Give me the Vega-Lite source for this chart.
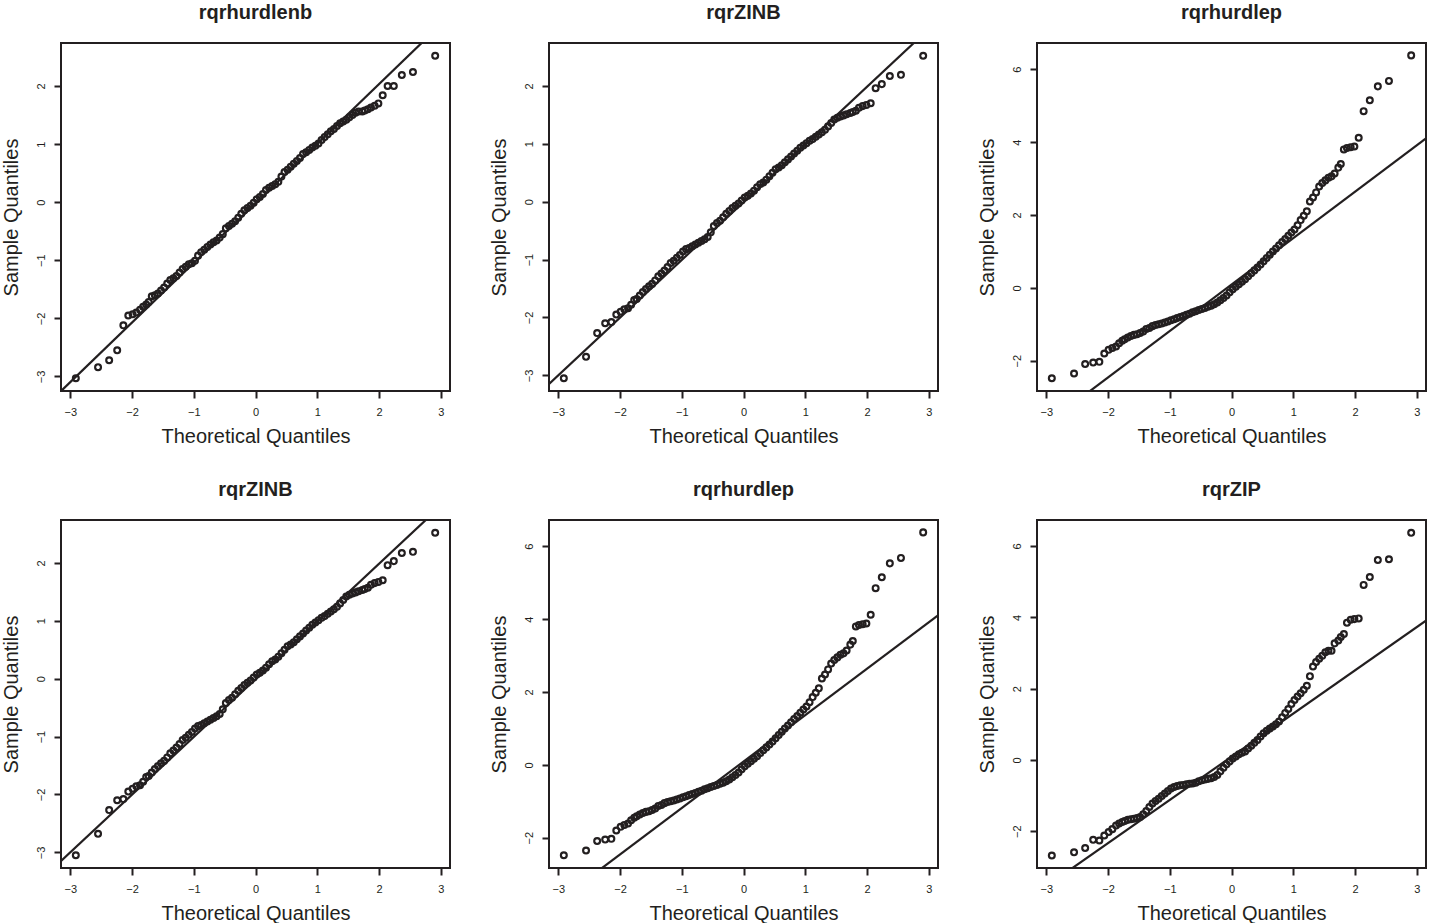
{
"$schema": "https://vega.github.io/schema/vega-lite/v6.json",
"background": "white",
"padding": {"left": 0, "top": 2, "right": 5, "bottom": 0},
"datasets": {
"qq": [
{"x":-2.91,"a":-3.03,"b":-3.05,"c":-2.48,"d":-2.68},
{"x":-2.55,"a":-2.84,"b":-2.68,"c":-2.35,"d":-2.59},
{"x":-2.37,"a":-2.72,"b":-2.27,"c":-2.09,"d":-2.47},
{"x":-2.24,"a":-2.55,"b":-2.10,"c":-2.05,"d":-2.24},
{"x":-2.14,"a":-2.12,"b":-2.08,"c":-2.03,"d":-2.26},
{"x":-2.06,"a":-1.95,"b":-1.95,"c":-1.80,"d":-2.12},
{"x":-1.99,"a":-1.93,"b":-1.90,"c":-1.70,"d":-2.02},
{"x":-1.93,"a":-1.90,"b":-1.86,"c":-1.65,"d":-1.94},
{"x":-1.87,"a":-1.85,"b":-1.84,"c":-1.61,"d":-1.84},
{"x":-1.82,"a":-1.80,"b":-1.78,"c":-1.52,"d":-1.78},
{"x":-1.77,"a":-1.76,"b":-1.70,"c":-1.45,"d":-1.74},
{"x":-1.73,"a":-1.72,"b":-1.68,"c":-1.41,"d":-1.71},
{"x":-1.68,"a":-1.62,"b":-1.62,"c":-1.36,"d":-1.68},
{"x":-1.63,"a":-1.60,"b":-1.56,"c":-1.32,"d":-1.66},
{"x":-1.58,"a":-1.57,"b":-1.51,"c":-1.29,"d":-1.65},
{"x":-1.53,"a":-1.52,"b":-1.46,"c":-1.27,"d":-1.63},
{"x":-1.48,"a":-1.47,"b":-1.42,"c":-1.24,"d":-1.60},
{"x":-1.43,"a":-1.40,"b":-1.36,"c":-1.20,"d":-1.52},
{"x":-1.38,"a":-1.34,"b":-1.29,"c":-1.13,"d":-1.43},
{"x":-1.33,"a":-1.31,"b":-1.24,"c":-1.10,"d":-1.32},
{"x":-1.28,"a":-1.27,"b":-1.19,"c":-1.05,"d":-1.22},
{"x":-1.23,"a":-1.21,"b":-1.13,"c":-1.02,"d":-1.15},
{"x":-1.18,"a":-1.15,"b":-1.06,"c":-1.00,"d":-1.09},
{"x":-1.13,"a":-1.11,"b":-1.02,"c":-0.98,"d":-1.01},
{"x":-1.08,"a":-1.07,"b":-0.97,"c":-0.95,"d":-0.94},
{"x":-1.03,"a":-1.05,"b":-0.92,"c":-0.92,"d":-0.87},
{"x":-0.98,"a":-1.01,"b":-0.86,"c":-0.89,"d":-0.80},
{"x":-0.93,"a":-0.92,"b":-0.82,"c":-0.86,"d":-0.76},
{"x":-0.88,"a":-0.86,"b":-0.80,"c":-0.83,"d":-0.73},
{"x":-0.83,"a":-0.82,"b":-0.77,"c":-0.80,"d":-0.71},
{"x":-0.78,"a":-0.77,"b":-0.74,"c":-0.77,"d":-0.70},
{"x":-0.73,"a":-0.73,"b":-0.71,"c":-0.74,"d":-0.68},
{"x":-0.68,"a":-0.69,"b":-0.68,"c":-0.71,"d":-0.67},
{"x":-0.63,"a":-0.66,"b":-0.65,"c":-0.67,"d":-0.66},
{"x":-0.58,"a":-0.61,"b":-0.61,"c":-0.64,"d":-0.64},
{"x":-0.53,"a":-0.55,"b":-0.53,"c":-0.61,"d":-0.60},
{"x":-0.48,"a":-0.45,"b":-0.42,"c":-0.58,"d":-0.57},
{"x":-0.43,"a":-0.41,"b":-0.37,"c":-0.55,"d":-0.55},
{"x":-0.38,"a":-0.37,"b":-0.33,"c":-0.52,"d":-0.53},
{"x":-0.33,"a":-0.33,"b":-0.27,"c":-0.49,"d":-0.51},
{"x":-0.28,"a":-0.27,"b":-0.21,"c":-0.45,"d":-0.48},
{"x":-0.23,"a":-0.20,"b":-0.16,"c":-0.40,"d":-0.42},
{"x":-0.18,"a":-0.14,"b":-0.11,"c":-0.34,"d":-0.32},
{"x":-0.13,"a":-0.10,"b":-0.07,"c":-0.28,"d":-0.22},
{"x":-0.08,"a":-0.06,"b":-0.03,"c":-0.21,"d":-0.12},
{"x":-0.03,"a":-0.01,"b":0.02,"c":-0.12,"d":-0.04},
{"x":0.02,"a":0.05,"b":0.07,"c":-0.04,"d":0.04},
{"x":0.07,"a":0.09,"b":0.10,"c":0.03,"d":0.10},
{"x":0.12,"a":0.14,"b":0.14,"c":0.10,"d":0.16},
{"x":0.17,"a":0.21,"b":0.19,"c":0.17,"d":0.20},
{"x":0.22,"a":0.25,"b":0.25,"c":0.24,"d":0.24},
{"x":0.27,"a":0.28,"b":0.30,"c":0.32,"d":0.32},
{"x":0.32,"a":0.31,"b":0.33,"c":0.40,"d":0.40},
{"x":0.37,"a":0.35,"b":0.38,"c":0.48,"d":0.48},
{"x":0.42,"a":0.44,"b":0.44,"c":0.56,"d":0.56},
{"x":0.47,"a":0.52,"b":0.50,"c":0.64,"d":0.66},
{"x":0.52,"a":0.56,"b":0.56,"c":0.73,"d":0.75},
{"x":0.57,"a":0.61,"b":0.59,"c":0.82,"d":0.82},
{"x":0.62,"a":0.66,"b":0.63,"c":0.91,"d":0.88},
{"x":0.67,"a":0.71,"b":0.68,"c":1.00,"d":0.94},
{"x":0.72,"a":0.76,"b":0.73,"c":1.08,"d":1.00},
{"x":0.77,"a":0.83,"b":0.78,"c":1.17,"d":1.08},
{"x":0.82,"a":0.86,"b":0.83,"c":1.26,"d":1.20},
{"x":0.87,"a":0.90,"b":0.88,"c":1.34,"d":1.32},
{"x":0.92,"a":0.94,"b":0.93,"c":1.43,"d":1.43},
{"x":0.97,"a":0.97,"b":0.97,"c":1.52,"d":1.57},
{"x":1.02,"a":1.01,"b":1.01,"c":1.60,"d":1.68},
{"x":1.07,"a":1.07,"b":1.05,"c":1.72,"d":1.78},
{"x":1.12,"a":1.12,"b":1.08,"c":1.86,"d":1.87},
{"x":1.17,"a":1.17,"b":1.12,"c":1.98,"d":1.97},
{"x":1.22,"a":1.22,"b":1.16,"c":2.10,"d":2.08},
{"x":1.27,"a":1.26,"b":1.20,"c":2.37,"d":2.35},
{"x":1.32,"a":1.31,"b":1.24,"c":2.48,"d":2.62},
{"x":1.37,"a":1.36,"b":1.30,"c":2.62,"d":2.75},
{"x":1.42,"a":1.39,"b":1.36,"c":2.78,"d":2.84},
{"x":1.47,"a":1.42,"b":1.42,"c":2.88,"d":2.92},
{"x":1.52,"a":1.46,"b":1.45,"c":2.95,"d":3.02},
{"x":1.57,"a":1.50,"b":1.47,"c":3.02,"d":3.06},
{"x":1.62,"a":1.54,"b":1.49,"c":3.06,"d":3.06},
{"x":1.67,"a":1.56,"b":1.51,"c":3.14,"d":3.27},
{"x":1.73,"a":1.56,"b":1.53,"c":3.30,"d":3.35},
{"x":1.77,"a":1.58,"b":1.55,"c":3.40,"d":3.45},
{"x":1.82,"a":1.60,"b":1.57,"c":3.80,"d":3.53},
{"x":1.87,"a":1.63,"b":1.62,"c":3.84,"d":3.85},
{"x":1.93,"a":1.66,"b":1.65,"c":3.86,"d":3.93},
{"x":1.99,"a":1.70,"b":1.67,"c":3.88,"d":3.95},
{"x":2.06,"a":1.84,"b":1.70,"c":4.12,"d":3.97},
{"x":2.14,"a":2.00,"b":1.96,"c":4.85,"d":4.91},
{"x":2.24,"a":2.00,"b":2.03,"c":5.15,"d":5.13},
{"x":2.37,"a":2.19,"b":2.17,"c":5.53,"d":5.61},
{"x":2.55,"a":2.24,"b":2.19,"c":5.68,"d":5.63},
{"x":2.91,"a":2.52,"b":2.52,"c":6.38,"d":6.37}
],
"ln": [
{"x":-3.5,"a":-3.611,"b":-3.50,"c":-4.37,"d":-4.15},
{"x":3.5,"a":3.571,"b":3.48,"c":4.55,"d":4.33}
]
},
"columns": 3,
"spacing": {"row": 129, "column": 99},
"bounds": "flush",
"concat": [
{"title": "rqrhurdlenb", "width": 389, "height": 348,
 "encoding": {"x": {"field": "x", "type": "quantitative", "title": "Theoretical Quantiles", "scale": {"domain": [-3.15, 3.15], "nice": false, "zero": false}, "axis": {"values": [-3,-2,-1,0,1,2,3]}}},
 "layer": [
  {"data": {"name": "qq"}, "mark": {"type": "point", "shape": "circle", "filled": false, "size": 34, "strokeWidth": 2.2, "color": "#231f20", "opacity": 1},
   "encoding": {"y": {"field": "a", "type": "quantitative", "title": "Sample Quantiles", "scale": {"domain": [-3.25, 2.74], "nice": false, "zero": false}, "axis": {"values": [-3,-2,-1,0,1,2]}}}},
  {"data": {"name": "ln"}, "mark": {"type": "line", "clip": true, "color": "#231f20", "strokeWidth": 2.2},
   "encoding": {"y": {"field": "a", "type": "quantitative", "title": "Sample Quantiles"}}}
 ]},
{"title": "rqrZINB", "width": 389, "height": 348,
 "encoding": {"x": {"field": "x", "type": "quantitative", "title": "Theoretical Quantiles", "scale": {"domain": [-3.15, 3.15], "nice": false, "zero": false}, "axis": {"values": [-3,-2,-1,0,1,2,3]}}},
 "layer": [
  {"data": {"name": "qq"}, "mark": {"type": "point", "shape": "circle", "filled": false, "size": 34, "strokeWidth": 2.2, "color": "#231f20", "opacity": 1},
   "encoding": {"y": {"field": "b", "type": "quantitative", "title": "Sample Quantiles", "scale": {"domain": [-3.27, 2.74], "nice": false, "zero": false}, "axis": {"values": [-3,-2,-1,0,1,2]}}}},
  {"data": {"name": "ln"}, "mark": {"type": "line", "clip": true, "color": "#231f20", "strokeWidth": 2.2},
   "encoding": {"y": {"field": "b", "type": "quantitative", "title": "Sample Quantiles"}}}
 ]},
{"title": "rqrhurdlep", "width": 389, "height": 348,
 "encoding": {"x": {"field": "x", "type": "quantitative", "title": "Theoretical Quantiles", "scale": {"domain": [-3.15, 3.15], "nice": false, "zero": false}, "axis": {"values": [-3,-2,-1,0,1,2,3]}}},
 "layer": [
  {"data": {"name": "qq"}, "mark": {"type": "point", "shape": "circle", "filled": false, "size": 34, "strokeWidth": 2.2, "color": "#231f20", "opacity": 1},
   "encoding": {"y": {"field": "c", "type": "quantitative", "title": "Sample Quantiles", "scale": {"domain": [-2.83, 6.72], "nice": false, "zero": false}, "axis": {"values": [-2,0,2,4,6]}}}},
  {"data": {"name": "ln"}, "mark": {"type": "line", "clip": true, "color": "#231f20", "strokeWidth": 2.2},
   "encoding": {"y": {"field": "c", "type": "quantitative", "title": "Sample Quantiles"}}}
 ]},
{"title": "rqrZINB", "width": 389, "height": 348,
 "encoding": {"x": {"field": "x", "type": "quantitative", "title": "Theoretical Quantiles", "scale": {"domain": [-3.15, 3.15], "nice": false, "zero": false}, "axis": {"values": [-3,-2,-1,0,1,2,3]}}},
 "layer": [
  {"data": {"name": "qq"}, "mark": {"type": "point", "shape": "circle", "filled": false, "size": 34, "strokeWidth": 2.2, "color": "#231f20", "opacity": 1},
   "encoding": {"y": {"field": "b", "type": "quantitative", "title": "Sample Quantiles", "scale": {"domain": [-3.27, 2.74], "nice": false, "zero": false}, "axis": {"values": [-3,-2,-1,0,1,2]}}}},
  {"data": {"name": "ln"}, "mark": {"type": "line", "clip": true, "color": "#231f20", "strokeWidth": 2.2},
   "encoding": {"y": {"field": "b", "type": "quantitative", "title": "Sample Quantiles"}}}
 ]},
{"title": "rqrhurdlep", "width": 389, "height": 348,
 "encoding": {"x": {"field": "x", "type": "quantitative", "title": "Theoretical Quantiles", "scale": {"domain": [-3.15, 3.15], "nice": false, "zero": false}, "axis": {"values": [-3,-2,-1,0,1,2,3]}}},
 "layer": [
  {"data": {"name": "qq"}, "mark": {"type": "point", "shape": "circle", "filled": false, "size": 34, "strokeWidth": 2.2, "color": "#231f20", "opacity": 1},
   "encoding": {"y": {"field": "c", "type": "quantitative", "title": "Sample Quantiles", "scale": {"domain": [-2.83, 6.72], "nice": false, "zero": false}, "axis": {"values": [-2,0,2,4,6]}}}},
  {"data": {"name": "ln"}, "mark": {"type": "line", "clip": true, "color": "#231f20", "strokeWidth": 2.2},
   "encoding": {"y": {"field": "c", "type": "quantitative", "title": "Sample Quantiles"}}}
 ]},
{"title": "rqrZIP", "width": 389, "height": 348,
 "encoding": {"x": {"field": "x", "type": "quantitative", "title": "Theoretical Quantiles", "scale": {"domain": [-3.15, 3.15], "nice": false, "zero": false}, "axis": {"values": [-3,-2,-1,0,1,2,3]}}},
 "layer": [
  {"data": {"name": "qq"}, "mark": {"type": "point", "shape": "circle", "filled": false, "size": 34, "strokeWidth": 2.2, "color": "#231f20", "opacity": 1},
   "encoding": {"y": {"field": "d", "type": "quantitative", "title": "Sample Quantiles", "scale": {"domain": [-3.03, 6.73], "nice": false, "zero": false}, "axis": {"values": [-2,0,2,4,6]}}}},
  {"data": {"name": "ln"}, "mark": {"type": "line", "clip": true, "color": "#231f20", "strokeWidth": 2.2},
   "encoding": {"y": {"field": "d", "type": "quantitative", "title": "Sample Quantiles"}}}
 ]}
],
"config": {
 "font": "Liberation Sans",
 "view": {"stroke": "#231f20", "strokeWidth": 2},
 "axis": {"domain": false, "grid": false, "ticks": true, "tickSize": 7, "tickWidth": 2, "tickColor": "#231f20", "format": "d",
   "labelFont": "Liberation Sans", "labelFontSize": 11, "labelColor": "#231f20", "labelFlush": false, "labelOverlap": false,
   "titleFont": "Liberation Sans", "titleFontSize": 20, "titleFontWeight": "normal", "titleColor": "#231f20"},
 "axisY": {"labelAngle": -90, "labelAlign": "center", "labelBaseline": "alphabetic", "labelPadding": 9.5, "titleX": -44, "titleY": 174, "titleBaseline": "alphabetic", "titleAngle": -90, "titleAlign": "center"},
 "axisX": {"labelPadding": 8, "labelBaseline": "top", "titleY": 51, "titleX": 194.5, "titleBaseline": "alphabetic", "titleAlign": "center"},
 "title": {"font": "Liberation Sans", "fontSize": 20, "fontWeight": "bold", "color": "#231f20", "anchor": "middle", "frame": "group", "baseline": "alphabetic", "offset": 20}
}
}
